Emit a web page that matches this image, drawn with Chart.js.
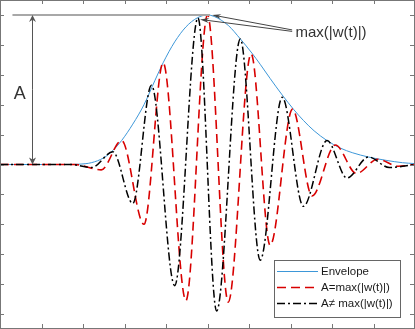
<!DOCTYPE html>
<html>
<head>
<meta charset="utf-8">
<script src="https://cdn.jsdelivr.net/npm/chart.js@4/dist/chart.umd.min.js"></script>
<style>
html,body{margin:0;padding:0;background:#fff;}
#wrap{position:relative;width:415px;height:329px;}
canvas{display:block;}
</style>
</head>
<body>
<div id="wrap"><canvas id="c" width="415" height="329"></canvas></div>
<script>
// ---- data (t axis from -5 to 5) ----
const envT = [-5,-3.4,-3.1,-2.8,-2.5,-2.28,-2.07,-1.80,-1.53,-1.27,-1.07,-0.79,-0.52,-0.25,0,0.16,0.50,0.79,1.07,1.27,1.51,1.80,2.07,2.31,2.57,2.88,3.20,3.50,3.88,4.30,4.70,5];
const envV = [0,0,0.002,0.012,0.045,0.094,0.16,0.27,0.40,0.56,0.68,0.82,0.92,0.98,1.0,0.99,0.93,0.84,0.745,0.67,0.575,0.465,0.37,0.295,0.225,0.16,0.11,0.078,0.05,0.028,0.012,0.006];

const redT = [-5,-3.2,-2.56,-2.07,-1.53,-1.07,-0.52,0,0.50,1.05,1.51,2.05,2.52,3.08,3.59,4.10,4.60,5];
const redV = [0,0,-0.036,0.16,-0.40,0.68,-0.91,1.0,-0.92,0.74,-0.54,0.37,-0.21,0.13,-0.06,0.035,-0.012,0];

const blkT = [-5,-3.3,-2.79,-2.28,-1.80,-1.35,-0.79,-0.23,0.22,0.79,1.27,1.80,2.31,2.88,3.36,3.88,4.38,5];
const blkV = [0,0,-0.02,0.085,-0.26,0.53,-0.81,0.98,-0.98,0.84,-0.64,0.45,-0.28,0.16,-0.09,0.05,-0.02,0];

const xTicks = [-4,-3,-2,-1,0,1,2,3,4];
const yTicks = [-1,-0.8,-0.6,-0.4,-0.2,0,0.2,0.4,0.6,0.8,1];

const labels = ['Envelope','A=max(|w(t)|)','A\u2260 max(|w(t)|)'];
const annoA = 'A';
const annoMax = 'max(|w(t)|)';

const pts = (t,v) => t.map((x,i)=>({x:x,y:v[i]}));

const frame = {
  id:'frame',
  afterDatasetsDraw(chart){
    const {ctx, chartArea:a, scales:{x,y}} = chart;
    ctx.save();
    ctx.strokeStyle = '#777';
    ctx.lineWidth = 1;
    ctx.setLineDash([]);
    ctx.beginPath();
    xTicks.forEach(v=>{
      const px = Math.round(x.getPixelForValue(v)) + 0.5;
      ctx.moveTo(px, 0); ctx.lineTo(px, 4);
      ctx.moveTo(px, 328); ctx.lineTo(px, 324);
    });
    yTicks.forEach(v=>{
      const py = Math.round(y.getPixelForValue(v)) + 0.5;
      ctx.moveTo(0, py); ctx.lineTo(4, py);
      ctx.moveTo(414, py); ctx.lineTo(410, py);
    });
    ctx.stroke();
    ctx.strokeRect(0.5, 0.5, 414, 328);

    // annotations
    const arrow = (x1,y1,x2,y2,len,w,col)=>{
      const ang = Math.atan2(y2-y1, x2-x1);
      ctx.strokeStyle = col; ctx.fillStyle = col;
      ctx.beginPath(); ctx.moveTo(x1,y1); ctx.lineTo(x2 - Math.cos(ang)*len*0.6, y2 - Math.sin(ang)*len*0.6); ctx.stroke();
      ctx.beginPath();
      ctx.moveTo(x2,y2);
      ctx.lineTo(x2 - Math.cos(ang)*len - Math.sin(ang)*w/2, y2 - Math.sin(ang)*len + Math.cos(ang)*w/2);
      ctx.lineTo(x2 - Math.cos(ang)*len*0.7, y2 - Math.sin(ang)*len*0.7);
      ctx.lineTo(x2 - Math.cos(ang)*len + Math.sin(ang)*w/2, y2 - Math.sin(ang)*len - Math.cos(ang)*w/2);
      ctx.closePath(); ctx.fill();
    };
    // horizontal reference line at the peak
    ctx.strokeStyle = '#a8a8a8'; ctx.lineWidth = 2;
    ctx.beginPath();
    ctx.moveTo(x.getPixelForValue(-4.7), y.getPixelForValue(1));
    ctx.lineTo(x.getPixelForValue(0.06), y.getPixelForValue(1));
    ctx.stroke();
    // double-headed vertical arrow
    ctx.lineWidth = 1;
    const ax = Math.round(x.getPixelForValue(-4.23)) + 0.5;
    const yTop = y.getPixelForValue(1), yBot = y.getPixelForValue(0);
    const mid = (yTop+yBot)/2;
    arrow(ax, mid, ax, yTop, 7, 7, '#555');
    arrow(ax, mid, ax, yBot, 7, 7, '#555');
    // pointer arrows
    arrow(x.getPixelForValue(2.04), y.getPixelForValue(0.90), x.getPixelForValue(0.11), y.getPixelForValue(1.0), 9, 5, '#444');
    arrow(x.getPixelForValue(2.04), y.getPixelForValue(0.89), x.getPixelForValue(-0.18), y.getPixelForValue(0.97), 9, 5, '#444');
    // texts
    ctx.fillStyle = '#333';
    ctx.textBaseline = 'alphabetic';
    ctx.textAlign = 'left';
    ctx.font = '18px "Liberation Sans", Arial, sans-serif';
    ctx.fillText(annoA, x.getPixelForValue(-4.67), y.getPixelForValue(0.435));
    ctx.font = '15px "Liberation Sans", Arial, sans-serif';
    ctx.fillText(annoMax, x.getPixelForValue(2.12), y.getPixelForValue(0.853));
    ctx.restore();
  },
  afterDraw(chart){
    const {ctx, chartArea:a} = chart;
    const ds = chart.data.datasets;
    ctx.save();
    const bx = 274.5, by = 260.5, bw = 126, bh = 57;
    ctx.fillStyle = '#fff';
    ctx.fillRect(bx, by, bw, bh);
    ctx.strokeStyle = '#666'; ctx.lineWidth = 1; ctx.setLineDash([]);
    ctx.strokeRect(bx, by, bw, bh);
    ctx.font = '11.5px "Liberation Sans", Arial, sans-serif';
    ctx.textBaseline = 'middle';
    ctx.textAlign = 'left';
    ds.forEach((d,i)=>{
      const ry = 271.5 + i*16;
      ctx.strokeStyle = d.borderColor;
      ctx.lineWidth = d.borderWidth;
      ctx.setLineDash(d.borderDash || []);
      ctx.beginPath(); ctx.moveTo(277, ry); ctx.lineTo(318, ry); ctx.stroke();
      ctx.setLineDash([]);
      ctx.fillStyle = '#1a1a1a';
      ctx.fillText(d.label, 321, ry+0.5);
    });
    ctx.restore();
  }
};

new Chart(document.getElementById('c'), {
  type:'line',
  data:{
    datasets:[
      {label:labels[0], data:pts(envT,envV), borderColor:'#3d97d8', borderWidth:1, pointRadius:0, cubicInterpolationMode:'monotone', order:3, fill:false},
      {label:labels[1], data:pts(redT,redV), borderColor:'#d80000', borderWidth:1.6, borderDash:[9,5], pointRadius:0, cubicInterpolationMode:'monotone', order:2, fill:false},
      {label:labels[2], data:pts(blkT,blkV), borderColor:'#000000', borderWidth:1.5, borderDash:[8,3,2,3], pointRadius:0, cubicInterpolationMode:'monotone', order:1, fill:false}
    ]
  },
  options:{
    responsive:false,
    animation:false,
    devicePixelRatio:1,
    layout:{padding:0},
    plugins:{legend:{display:false}, tooltip:{enabled:false}},
    scales:{
      x:{type:'linear', min:-5, max:5, display:false},
      y:{type:'linear', min:-1.1, max:1.1, display:false}
    }
  },
  plugins:[frame]
});
</script>
</body>
</html>
